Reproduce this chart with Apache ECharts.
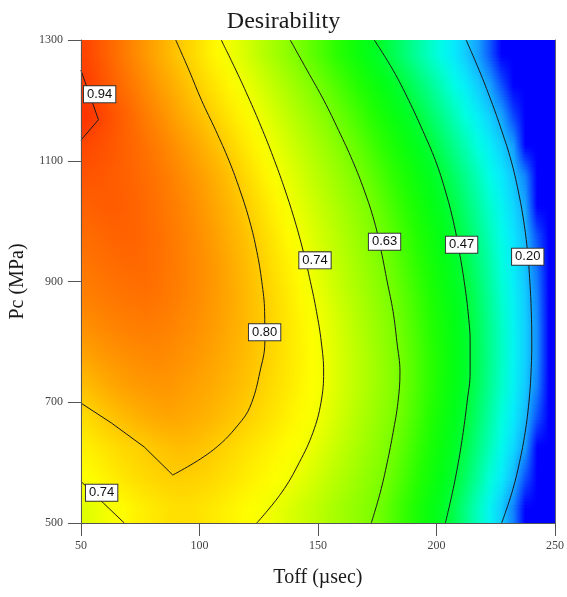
<!DOCTYPE html>
<html>
<head>
<meta charset="utf-8">
<script src="https://cdn.jsdelivr.net/npm/echarts@6/dist/echarts.min.js"></script>
<style>
html,body{margin:0;padding:0;background:#fff;}
#chart{width:567px;height:597px;}
</style>
</head>
<body>
<div id="chart"></div>
<script>
// ---- Data ----
// Surface cell centres (Toff, µsec) and (Pc, MPa), top row first
var toffCenters = [52.5,57.5,62.5,67.5,72.5,77.5,82.5,87.5,92.5,97.5,102.5,107.5,112.5,117.5,122.5,127.5,132.5,137.5,142.5,147.5,152.5,157.5,162.5,167.5,172.5,177.5,182.5,187.5,192.5,197.5,202.5,207.5,212.5,217.5,222.5,227.5,232.5,237.5,242.5,247.5];
var pcCenters = [1275,1225,1175,1125,1075,1025,975,925,875,825,775,725,675,625,575,525];

// Desirability estimated per cell (rows follow pcCenters, columns follow toffCenters)
var d1275 = [0.932,0.916,0.899,0.883,0.867,0.850,0.834,0.818,0.801,0.786,0.770,0.755,0.739,0.721,0.702,0.683,0.665,0.646,0.627,0.605,0.583,0.560,0.538,0.516,0.493,0.471,0.435,0.399,0.363,0.327,0.291,0.255,0.219,0.174,0.093,0,0,0,0,0];
var d1225 = [0.940,0.925,0.909,0.894,0.879,0.864,0.848,0.833,0.818,0.802,0.787,0.772,0.757,0.742,0.725,0.707,0.689,0.671,0.653,0.635,0.614,0.592,0.570,0.548,0.526,0.503,0.481,0.451,0.413,0.375,0.337,0.298,0.260,0.222,0.174,0.083,0,0,0,0];
var d1175 = [0.950,0.937,0.922,0.908,0.893,0.878,0.864,0.849,0.834,0.820,0.805,0.790,0.775,0.760,0.745,0.728,0.710,0.693,0.675,0.658,0.641,0.621,0.599,0.577,0.554,0.532,0.509,0.487,0.460,0.421,0.382,0.342,0.303,0.264,0.224,0.174,0.071,0,0,0];
var d1125 = [0.930,0.923,0.916,0.907,0.898,0.888,0.877,0.865,0.852,0.839,0.825,0.810,0.794,0.778,0.762,0.745,0.729,0.712,0.695,0.678,0.661,0.644,0.626,0.604,0.581,0.558,0.535,0.513,0.490,0.465,0.425,0.384,0.344,0.304,0.264,0.223,0.168,0,0,0];
var d1075 = [0.918,0.915,0.911,0.906,0.900,0.893,0.885,0.875,0.864,0.852,0.840,0.826,0.811,0.794,0.778,0.761,0.745,0.728,0.712,0.695,0.678,0.662,0.645,0.628,0.605,0.582,0.559,0.536,0.513,0.490,0.463,0.422,0.380,0.338,0.296,0.254,0.212,0.136,0,0];
var d1025 = [0.905,0.908,0.910,0.908,0.903,0.896,0.889,0.880,0.871,0.860,0.848,0.835,0.822,0.807,0.791,0.775,0.759,0.743,0.726,0.710,0.693,0.677,0.660,0.644,0.626,0.602,0.578,0.555,0.531,0.507,0.483,0.452,0.408,0.364,0.321,0.277,0.233,0.177,0,0];
var d975  = [0.895,0.899,0.902,0.904,0.903,0.897,0.891,0.883,0.874,0.865,0.854,0.842,0.829,0.816,0.801,0.785,0.770,0.754,0.739,0.722,0.705,0.689,0.672,0.656,0.639,0.619,0.595,0.571,0.547,0.522,0.498,0.474,0.432,0.386,0.340,0.294,0.248,0.202,0.083,0];
var d925  = [0.885,0.889,0.893,0.896,0.898,0.896,0.890,0.883,0.876,0.867,0.858,0.847,0.835,0.822,0.808,0.793,0.778,0.763,0.748,0.732,0.715,0.698,0.681,0.665,0.648,0.632,0.608,0.583,0.559,0.534,0.510,0.485,0.452,0.404,0.356,0.308,0.260,0.212,0.118,0];
var d875  = [0.875,0.879,0.883,0.886,0.888,0.890,0.886,0.880,0.873,0.866,0.857,0.847,0.836,0.825,0.812,0.798,0.784,0.770,0.756,0.742,0.725,0.708,0.691,0.674,0.657,0.640,0.620,0.595,0.570,0.545,0.520,0.495,0.470,0.420,0.370,0.320,0.271,0.221,0.136,0];
var d825  = [0.860,0.865,0.870,0.874,0.876,0.878,0.876,0.872,0.866,0.860,0.852,0.844,0.834,0.824,0.812,0.800,0.787,0.774,0.761,0.748,0.734,0.717,0.700,0.682,0.665,0.648,0.631,0.604,0.579,0.553,0.528,0.502,0.476,0.431,0.380,0.329,0.277,0.226,0.148,0];
var d775  = [0.840,0.847,0.853,0.858,0.862,0.865,0.866,0.862,0.857,0.852,0.845,0.837,0.829,0.819,0.809,0.798,0.786,0.774,0.763,0.751,0.739,0.721,0.704,0.687,0.670,0.652,0.635,0.611,0.585,0.558,0.532,0.505,0.479,0.435,0.383,0.331,0.278,0.226,0.148,0];
var d725  = [0.815,0.825,0.834,0.841,0.847,0.850,0.852,0.853,0.847,0.842,0.836,0.829,0.821,0.813,0.803,0.792,0.781,0.771,0.760,0.749,0.738,0.721,0.704,0.687,0.670,0.653,0.636,0.612,0.585,0.558,0.530,0.503,0.476,0.429,0.377,0.325,0.272,0.220,0.134,0];
var d675  = [0.785,0.797,0.807,0.816,0.824,0.830,0.835,0.838,0.835,0.830,0.825,0.818,0.810,0.801,0.792,0.782,0.773,0.763,0.754,0.744,0.730,0.714,0.697,0.680,0.664,0.647,0.631,0.604,0.577,0.549,0.522,0.495,0.466,0.413,0.361,0.309,0.256,0.204,0.085,0];
var d625  = [0.765,0.773,0.781,0.788,0.794,0.801,0.807,0.812,0.815,0.812,0.806,0.797,0.790,0.782,0.774,0.767,0.759,0.751,0.744,0.732,0.717,0.701,0.686,0.670,0.655,0.639,0.619,0.592,0.565,0.538,0.511,0.484,0.446,0.393,0.340,0.288,0.235,0.165,0,0];
var d575  = [0.748,0.757,0.766,0.774,0.781,0.787,0.792,0.796,0.797,0.795,0.791,0.785,0.778,0.771,0.763,0.756,0.748,0.741,0.728,0.714,0.700,0.686,0.672,0.658,0.644,0.631,0.605,0.578,0.552,0.525,0.499,0.472,0.421,0.367,0.313,0.259,0.204,0.085,0,0];
var d525  = [0.722,0.733,0.743,0.752,0.761,0.768,0.774,0.779,0.781,0.780,0.775,0.769,0.762,0.755,0.748,0.742,0.732,0.720,0.708,0.696,0.684,0.671,0.659,0.647,0.635,0.614,0.588,0.562,0.536,0.510,0.484,0.444,0.389,0.333,0.277,0.221,0.134,0,0,0];
var dRows = [d1275,d1225,d1175,d1125,d1075,d1025,d975,d925,d875,d825,d775,d725,d675,d625,d575,d525];

// Contour lines [Toff, Pc]
var c020 = [[212.5,1300],[218,1250],[223,1200],[227.5,1150],[231.5,1100],[234.5,1050],[236.8,1000],[238.4,950],[239.4,900],[240,850],[240.2,800],[239.9,750],[239,700],[237.4,650],[235,600],[231.8,550],[227.5,500]];
var c047 = [[173.75,1300],[181.7,1250],[188.3,1200],[194.2,1150],[199.6,1100],[203.75,1050],[207.1,1000],[209.6,950],[211.7,900],[213.3,850],[214.2,800],[214.2,750],[212.9,700],[211.25,650],[209.2,600],[206.7,550],[203.75,500]];
var c063 = [[138.3,1300],[145.4,1250],[152.5,1200],[158.75,1150],[164.6,1100],[169.6,1050],[173.75,1000],[176.7,950],[179.2,900],[181.7,850],[183.3,800],[184.6,750],[183.75,700],[181.7,650],[179.2,600],[176.25,550],[172.5,500]];
var c074 = [[109.2,1300],[115.4,1250],[121.25,1200],[126.7,1150],[131.7,1100],[136.25,1050],[140.3,1000],[143.8,950],[146.8,900],[149.4,850],[151.4,800],[152.4,750],[151.3,700],[147.9,650],[142.1,600],[134.6,550],[124.2,500]];
var c080arc = [[90,1300],[95.6,1250],[100.9,1200],[106.9,1150],[112.5,1100],[117.2,1050],[121.2,1000],[124.2,950],[126.3,900],[127.5,850],[127.6,800],[125.5,750],[122.1,700],[117.9,670],[105.8,621],[88.75,579.5]];
var c080left = [[88.75,579.5],[76.7,626],[62.9,665.6],[50,698.7]];
var c074b = [[50,569],[59.5,533],[68.3,500]];
var c094 = [[50,1250],[57.4,1168],[50,1134]];

// Contour labels [Toff, Pc, text]
var contourLabels = [[57.9,1210,'0.94'],[127.5,816,'0.80'],[148.75,935,'0.74'],[178.1,966,'0.63'],[210.6,961,'0.47'],[238.5,941,'0.20'],[58.75,550,'0.74']];

// Axis ticks
var xTicks = {min:50, max:250, interval:50};
var yTicks = {min:500, max:1300, interval:200};

// ---- Colour scale (desirability 0 -> 1, evenly spaced stops) ----
var colourStops = ['#0000ff','#0630ff','#0c60ff','#1290ff','#18b8ff','#08e8ff','#00ffe6','#00ffad','#00ff7a','#00ff47','#00ff14','#21ff00','#59ff00','#90ff00','#c7ff00','#ffff00','#ffcc00','#ff9900','#ff6600','#ff3300','#ff0000'];
var stopRGB = colourStops.map(function (h) {
  return [parseInt(h.substr(1,2),16), parseInt(h.substr(3,2),16), parseInt(h.substr(5,2),16)];
});
function colourFor(v) {
  v = Math.max(0, Math.min(1, v));
  var t = v * (stopRGB.length - 1);
  var i = Math.min(Math.floor(t), stopRGB.length - 2);
  var f = t - i;
  var a = stopRGB[i], b = stopRGB[i + 1];
  return [a[0] + (b[0]-a[0])*f, a[1] + (b[1]-a[1])*f, a[2] + (b[2]-a[2])*f];
}
function mixRGB(a, b, f) {
  return [a[0] + (b[0]-a[0])*f, a[1] + (b[1]-a[1])*f, a[2] + (b[2]-a[2])*f];
}
function rgbStr(c) {
  return 'rgb(' + Math.round(c[0]) + ',' + Math.round(c[1]) + ',' + Math.round(c[2]) + ')';
}
var rowColours = dRows.map(function (row) { return row.map(colourFor); });

function rowGradient(cols) {
  var stops = [{offset: 0, color: rgbStr(cols[0])}];
  for (var c = 0; c < cols.length; c++) {
    stops.push({offset: (toffCenters[c] - xTicks.min) / (xTicks.max - xTicks.min), color: rgbStr(cols[c])});
  }
  stops.push({offset: 1, color: rgbStr(cols[cols.length - 1])});
  return new echarts.graphic.LinearGradient(0, 0, 1, 0, stops);
}

function renderSurfaceRow(params, api) {
  var r = api.value(2);
  var xL = api.coord([xTicks.min, yTicks.min])[0];
  var xR = api.coord([xTicks.max, yTicks.min])[0];
  var yC = api.coord([xTicks.min, pcCenters[r]])[1];
  var children = [];
  function band(y0, y1, cols, extra) {
    children.push({
      type: 'rect', silent: true,
      shape: {x: xL, y: y0, width: xR - xL, height: (y1 - y0) + extra},
      style: {fill: rowGradient(cols)}
    });
  }
  if (r === 0) band(api.coord([xTicks.min, yTicks.max])[1], yC, rowColours[0], 0.8);
  if (r === pcCenters.length - 1) {
    band(yC, api.coord([xTicks.min, yTicks.min])[1], rowColours[r], 0);
  } else {
    var yN = api.coord([xTicks.min, pcCenters[r + 1]])[1];
    var N = 10;
    for (var k = 0; k < N; k++) {
      var f = (k + 0.5) / N;
      var cols = rowColours[r].map(function (c, i) { return mixRGB(c, rowColours[r + 1][i], f); });
      band(yC + (yN - yC) * k / N, yC + (yN - yC) * (k + 1) / N, cols, 0.8);
    }
  }
  return {type: 'group', children: children};
}

// ---- Build chart ----
var serif = "'Liberation Serif', 'DejaVu Serif', serif";
var sans = "'Liberation Sans', Arial, sans-serif";

function contourSeries(data, smooth) {
  return {
    type: 'line', xAxisIndex: 0, yAxisIndex: 0, data: data,
    showSymbol: false, symbol: 'none', smooth: smooth, silent: true,
    lineStyle: {color: '#1a1a1a', width: 1}, z: 5, animation: false
  };
}

var chart = echarts.init(document.getElementById('chart'), null, {renderer: 'canvas'});
chart.setOption({
  animation: false,
  backgroundColor: '#ffffff',
  title: {
    text: 'Desirability', left: 'center', top: 5,
    textStyle: {fontFamily: serif, fontSize: 24, fontWeight: 'normal', color: '#1a1a1a'}
  },
  grid: {left: 79, right: 9, top: 40, bottom: 74, containLabel: false},
  xAxis: [
    {
      type: 'value', position: 'bottom', min: xTicks.min, max: xTicks.max, interval: xTicks.interval,
      name: 'Toff (\u00b5sec)', nameLocation: 'middle', nameGap: 45,
      nameTextStyle: {fontFamily: serif, fontSize: 20, color: '#1a1a1a'},
      axisLine: {show: true, lineStyle: {color: '#555', width: 1}},
      axisTick: {show: true, length: 13, lineStyle: {color: '#555'}},
      axisLabel: {fontFamily: serif, fontSize: 12, color: '#444', margin: 17, formatter: function (v) { return String(v); }},
      splitLine: {show: false}, z: 10
    },
    {
      type: 'value', position: 'top', min: xTicks.min, max: xTicks.max,
      axisLine: {show: true, lineStyle: {color: '#888', width: 1}},
      axisTick: {show: false}, axisLabel: {show: false}, splitLine: {show: false}
    }
  ],
  yAxis: [
    {
      type: 'value', position: 'left', min: yTicks.min, max: yTicks.max, interval: yTicks.interval,
      name: 'Pc (MPa)', nameLocation: 'middle', nameGap: 46,
      nameTextStyle: {fontFamily: serif, fontSize: 20, color: '#1a1a1a'},
      axisLine: {show: true, lineStyle: {color: '#555', width: 1}},
      axisTick: {show: true, length: 13, lineStyle: {color: '#555'}},
      axisLabel: {fontFamily: serif, fontSize: 12, color: '#444', margin: 18, formatter: function (v) { return String(v); }},
      splitLine: {show: false}, z: 10
    },
    {
      type: 'value', position: 'right', min: yTicks.min, max: yTicks.max,
      axisLine: {show: true, lineStyle: {color: '#666', width: 1}},
      axisTick: {show: false}, axisLabel: {show: false}, splitLine: {show: false}
    }
  ],
  series: [
    {
      type: 'custom', xAxisIndex: 0, yAxisIndex: 0, silent: true, z: 1,
      data: pcCenters.map(function (p, r) { return [xTicks.min, p, r]; }),
      renderItem: renderSurfaceRow
    },
    contourSeries(c020, 0.4),
    contourSeries(c047, 0.4),
    contourSeries(c063, 0.4),
    contourSeries(c074, 0.4),
    contourSeries(c080arc, 0.4),
    contourSeries(c080left, false),
    contourSeries(c074b, false),
    contourSeries(c094, false),
    {
      type: 'scatter', xAxisIndex: 0, yAxisIndex: 0, symbolSize: 1, silent: true, z: 20,
      itemStyle: {opacity: 1, color: 'rgba(0,0,0,0)'},
      data: contourLabels.map(function (d) { return {value: [d[0], d[1]], name: d[2]}; }),
      label: {
        show: true, position: 'inside', opacity: 1, formatter: function (p) { return p.name; },
        fontFamily: sans, fontSize: 13, color: '#111',
        backgroundColor: '#ffffff', borderColor: '#333', borderWidth: 1,
        padding: [2, 3, 1, 3]
      }
    }
  ]
});
</script>
</body>
</html>
